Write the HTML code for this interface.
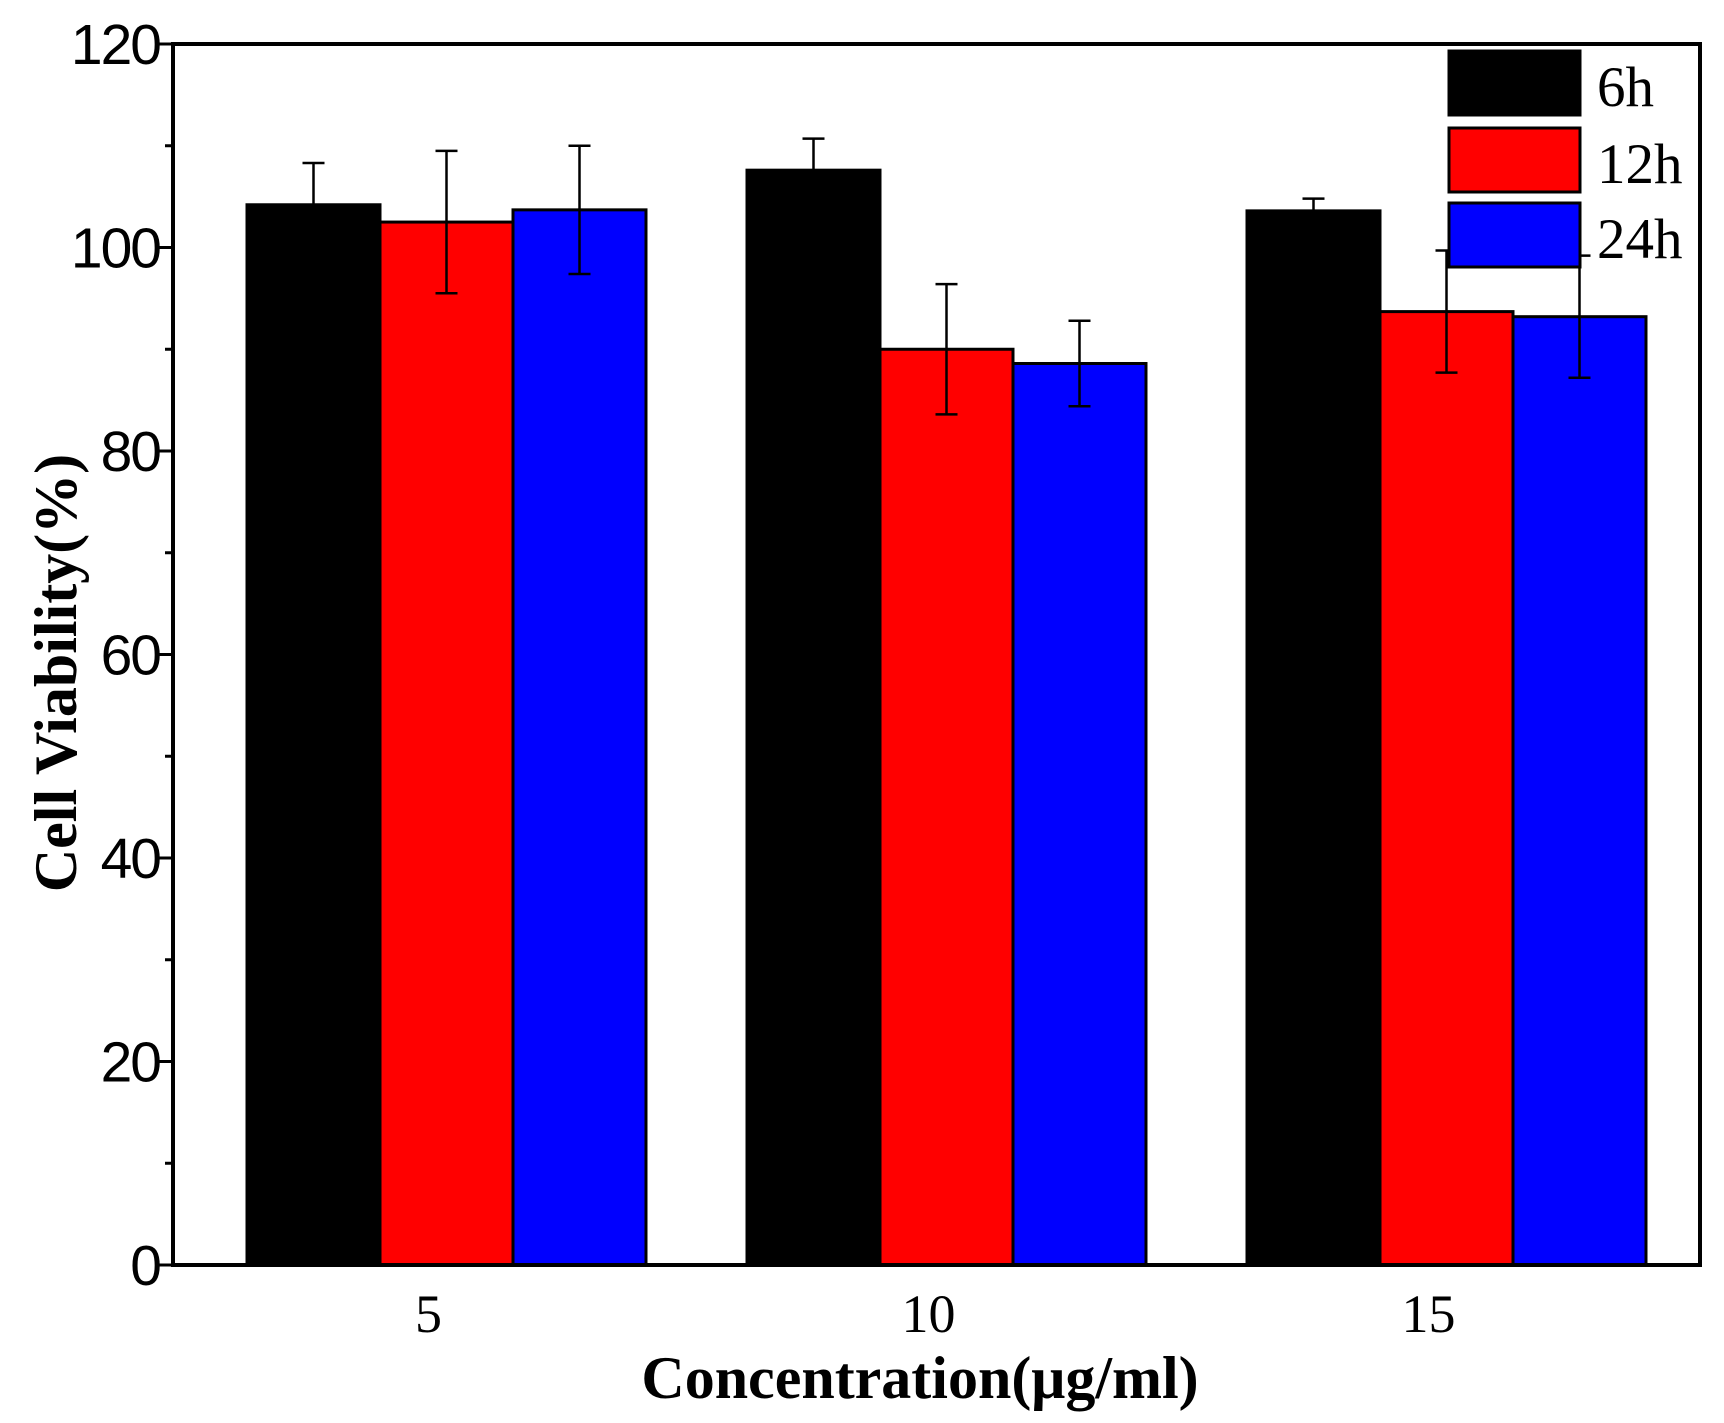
<!DOCTYPE html>
<html><head><meta charset="utf-8"><style>body{margin:0;background:#fff}svg{display:block}</style></head>
<body>
<svg id="chart" width="1724" height="1423" xmlns="http://www.w3.org/2000/svg"></svg>
<script>
const categories = ["5", "10", "15"];
const seriesNames = ["6h", "12h", "24h"];
const seriesColors = ["#000000", "#ff0000", "#0000ff"];
const values6h = [104.2, 107.6, 103.6];
const values12h = [102.5, 90.0, 93.7];
const values24h = [103.7, 88.6, 93.2];
const err6h = [4.1, 3.1, 1.2];
const err12h = [7.0, 6.4, 6.0];
const err24h = [6.3, 4.2, 6.0];
const yTicks = [0, 20, 40, 60, 80, 100, 120];

const svg = document.getElementById('chart');
const NS = 'http://www.w3.org/2000/svg';
const L = 173, R = 1700, T = 44, B = 1265;
const yMax = 120;
const y = v => B - v / yMax * (B - T);
const groupStart = 247, groupStep = 500, barW = 133;
const xCenter = i => groupStart + 1.5 * barW + i * groupStep;
function el(tag, attrs, parent) {
  const e = document.createElementNS(NS, tag);
  for (const k in attrs) e.setAttribute(k, attrs[k]);
  (parent || svg).appendChild(e);
  return e;
}
const values = [values6h, values12h, values24h];
const errs = [err6h, err12h, err24h];
for (let s = 0; s < 3; s++) {
  for (let i = 0; i < categories.length; i++) {
    const x0 = groupStart + i * groupStep + s * barW;
    const r = el('rect', {x: x0, y: y(values[s][i]), width: barW, height: B - y(values[s][i]), fill: seriesColors[s], stroke: '#000', 'stroke-width': 3});
    
    
  }
}
for (let s = 0; s < 3; s++) {
  for (let i = 0; i < categories.length; i++) {
    const cx = groupStart + i * groupStep + s * barW + barW / 2;
    const hi = y(values[s][i] + errs[s][i]), lo = y(values[s][i] - errs[s][i]);
    const g = el('g', {stroke: '#000', 'stroke-width': 2.5});
    
    
    el('line', {x1: cx, x2: cx, y1: hi, y2: lo}, g);
    el('line', {x1: cx - 11, x2: cx + 11, y1: hi, y2: hi}, g);
    el('line', {x1: cx - 11, x2: cx + 11, y1: lo, y2: lo}, g);
  }
}
const legY = [51, 128, 203];
for (let s = 0; s < 3; s++) {
  const g = el('g', {});
  
  
  el('rect', {x: 1449, y: legY[s], width: 131, height: 64, fill: seriesColors[s], stroke: '#000', 'stroke-width': 3}, g);
  const t = el('text', {x: 1597, y: legY[s] + 55, 'font-family': 'Liberation Serif, serif', 'font-size': 57, fill: '#000'}, g);
  t.textContent = seriesNames[s];
}
const frame = el('rect', {x: L, y: T, width: R - L, height: B - T, fill: 'none', stroke: '#000', 'stroke-width': 4});


for (let v = 0; v <= yMax; v += 10) {
  const major = v % 20 === 0;
  const t = el('line', {x1: L - (major ? 14 : 8), x2: L, y1: y(v), y2: y(v), stroke: '#000', 'stroke-width': 3});
  
  
}
yTicks.forEach(v => {
  const t = el('text', {x: 160, y: y(v) + 20, 'text-anchor': 'end', 'font-family': 'Liberation Sans, sans-serif', 'font-size': 57, 'letter-spacing': -2, fill: '#000'});
  
  
  t.textContent = v;
});
categories.forEach((c, i) => {
  const t = el('text', {x: xCenter(i) - 18, y: 1332, 'text-anchor': 'middle', 'font-family': 'Liberation Serif, serif', 'font-size': 54, fill: '#000'});
  
  
  t.textContent = c;
});
const xt = el('text', {x: 920, y: 1398, 'text-anchor': 'middle', 'font-family': 'Liberation Serif, serif', 'font-weight': 'bold', 'font-size': 60, fill: '#000'});


xt.textContent = 'Concentration(μg/ml)';
const yt = el('text', {x: 0, y: 0, transform: 'translate(76,673) rotate(-90)', 'text-anchor': 'middle', 'font-family': 'Liberation Serif, serif', 'font-weight': 'bold', 'font-size': 60, fill: '#000'});


yt.textContent = 'Cell Viability(%)';
</script>
</body></html>
